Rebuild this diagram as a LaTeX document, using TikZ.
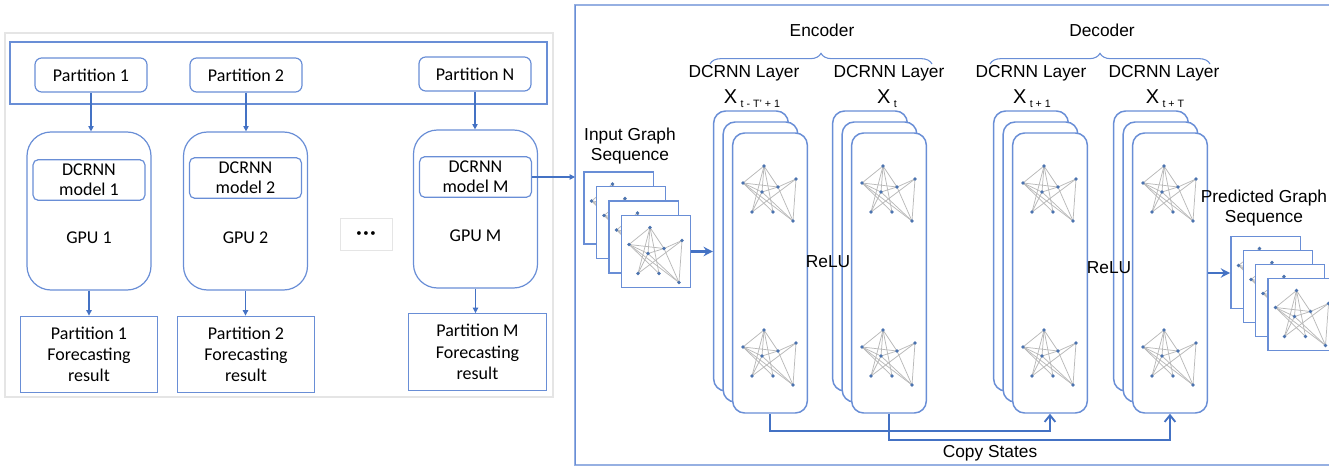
\documentclass[tikz,border=0pt]{standalone}
\usepackage{fontspec}
\setmainfont{Liberation Sans}
\newfontfamily\calibri{Carlito}
\usetikzlibrary{arrows.meta, decorations.pathreplacing, positioning}

\definecolor{boxblue}{RGB}{105,142,214}
\definecolor{arrblue}{RGB}{68,114,196}
\definecolor{edgegray}{RGB}{185,185,185}
\definecolor{dotblue}{RGB}{75,115,175}

% subscript of the X labels
\newcommand{\layersub}[1]{\raisebox{-3pt}{\fontsize{8}{8}\selectfont #1}}

% small graph drawn inside the frames and the layers
\newcommand{\minigraph}[1]{%
  \begin{scope}[shift={#1}]
    \coordinate (ga) at (0,0);
    \coordinate (gb) at (-21,17);
    \coordinate (gc) at (-2,26);
    \coordinate (gd) at (14,21);
    \coordinate (ge) at (32,13);
    \coordinate (gf) at (-12,46);
    \coordinate (gg) at (9,46);
    \coordinate (gh) at (29,55);
    \foreach \u/\v in {ga/gb,ga/gc,ga/gd,ga/gg,gb/gc,gb/gg,gb/gh,gc/gd,gc/gf,gd/ge,gd/gh,ge/gf,ge/gh,gc/gh,gf/ga,gb/gd}
      \draw[edgegray, line width=0.55pt] (\u) -- (\v);
    \foreach \p in {ga,gb,gc,gd,ge,gf,gg,gh}
      \fill[dotblue] (\p) circle (1.4pt);
  \end{scope}}

\begin{document}
\begin{tikzpicture}[x=0.75pt, y=-0.75pt,
  every node/.style={font=\fontsize{13}{15.5}\selectfont},
  part/.style={draw=boxblue, line width=0.9pt, rounded corners=5pt, minimum width=84pt, minimum height=25.5pt, font=\calibri\fontsize{13.5}{15}\selectfont},
  gpu/.style={draw=boxblue, line width=0.9pt, rounded corners=18pt, minimum width=93pt, minimum height=118.5pt},
  model/.style={draw=boxblue, line width=0.9pt, rounded corners=4pt, minimum width=84pt, minimum height=28.5pt, align=center, font=\calibri\fontsize{13.5}{15}\selectfont},
  result/.style={draw=boxblue, line width=0.9pt, minimum width=103pt, minimum height=57.5pt, align=center, font=\calibri\fontsize{13.5}{16}\selectfont},
  lefttext/.style={font=\calibri\fontsize{13.5}{15}\selectfont},
  down/.style={arrblue, line width=0.8pt, -{Triangle[length=4pt, width=4pt]}},
  frame/.style={draw=boxblue, line width=1pt, fill=white, minimum width=52pt, minimum height=54pt},
  layer/.style={draw=boxblue, line width=1.1pt, fill=white, rounded corners=9pt, minimum width=56pt, minimum height=210pt},
  flow/.style={arrblue, line width=1.6pt, -{Stealth[length=7pt, width=7pt]}},
  copy/.style={arrblue, line width=1.4pt, -{Straight Barb[length=5pt, width=8pt]}},
  brace/.style={boxblue, line width=0.8pt, decorate, decoration={brace, amplitude=8pt}}]

\useasboundingbox (0,0) rectangle (1329,467);

% ---- partitioned training on several GPUs ----
\draw[gray!20, line width=0.8pt] (5,33) rectangle (553,397);
\draw[boxblue, line width=1pt] (10,42) rectangle (547,104);

\node[part] (part1) at (91,75) {Partition 1};
\node[part] (part2) at (246,75) {Partition 2};
\node[part] (partN) at (475,74) {Partition N};

\node[gpu] (gpu1) at (89,211) {};
\node[gpu] (gpu2) at (245.5,211) {};
\node[gpu] (gpuM) at (475.5,209) {};

\node[model] (model1) at (89,180) {DCRNN\\model 1};
\node[model] (model2) at (245.5,178) {DCRNN\\model 2};
\node[model] (modelM) at (475.5,177) {DCRNN\\model M};

\node[lefttext] at (89,238) {GPU 1};
\node[lefttext] at (245.5,238) {GPU 2};
\node[lefttext] at (475.5,236) {GPU M};

\node[draw=gray!20, line width=0.6pt, minimum width=39pt, minimum height=24pt, font=\calibri\fontsize{8}{8}\selectfont] (dots) at (366,234) {\textbullet\,\textbullet\,\textbullet};

\node[result] (res1) at (89,354.5) {Partition 1\\Forecasting\\result};
\node[result] (res2) at (246,354.5) {Partition 2\\Forecasting\\result};
\node[result] (resM) at (477.5,352) {Partition M\\Forecasting\\result};

\draw[down] (part1.south) -- (part1.south |- gpu1.north);
\draw[down] (part2.south) -- (part2.south |- gpu2.north);
\draw[down] (partN.south) -- (partN.south |- gpuM.north);
\draw[down] (gpu1.south) -- (gpu1.south |- res1.north);
\draw[down] (gpu2.south) -- (gpu2.south |- res2.north);
\draw[down] (gpuM.south) -- (gpuM.south |- resM.north);

% ---- encoder / decoder ----
\coordinate (rframe) at (575,5);
\draw[boxblue!70, line width=1pt] (rframe) rectangle (1340,465);
\draw[boxblue, line width=0.5pt] (rframe) -- (575,465);
\draw[down] (modelM.east) -- (modelM.east -| rframe);

% input sequence
\foreach \k/\cx/\cy in {1/618.5/208, 2/631/222.5, 3/643.5/237, 4/656/251.5} {
  \node[frame] (in\k) at (\cx,\cy) {};
  \minigraph{(\cx-6,\cy-24)}
}
\node[align=center] (intext) at (630,146) {Input Graph\\Sequence};

% stacked layers
\foreach \nm/\cx in {enc1/770, enc2/889, dec1/1050, dec2/1170} {
  \node[layer] (\nm-back) at (\cx-19,251) {};
  \node[layer] (\nm-mid) at (\cx-9.5,262) {};
  \node[layer] (\nm) at (\cx,273) {};
  \minigraph{(\cx-6,166)}
  \minigraph{(\cx-6,330)}
}

\node (lab1) at (744,73) {DCRNN Layer};
\node (lab2) at (889,73) {DCRNN Layer};
\node (lab3) at (1031,73) {DCRNN Layer};
\node (lab4) at (1164,73) {DCRNN Layer};
\node[font=\fontsize{15}{15}\selectfont] at (752,99) {X\,\layersub{t - T' + 1}};
\node[font=\fontsize{15}{15}\selectfont] at (887,99) {X\,\layersub{t}};
\node[font=\fontsize{15}{15}\selectfont] at (1032,99) {X\,\layersub{t + 1}};
\node[font=\fontsize{15}{15}\selectfont] at (1165,99) {X\,\layersub{t + T}};

\coordinate (encL) at (710,64);
\coordinate (encR) at (932,64);
\coordinate (decL) at (990,64);
\coordinate (decR) at (1210,64);
\draw[brace] (encL) -- (encR);
\draw[brace] (decL) -- (decR);
\node (enctext) at (822,30) {Encoder};
\node (dectext) at (1102,30) {Decoder};

\node (relu1) at (828,262) {ReLU};
\node (relu2) at (1109,268) {ReLU};

% predicted sequence
\foreach \k/\cx/\cy in {1/1265.5/272.5, 2/1278/286.5, 3/1290/300.5, 4/1302.5/314.5} {
  \node[frame] (out\k) at (\cx,\cy) {};
  \minigraph{(\cx-6,\cy-24)}
}
\node[align=center] (outtext) at (1264,208) {Predicted Graph\\Sequence};

\draw[flow] (in4.east) -- (in4.east -| enc1-back.west);
\draw[flow] (dec2.east) -- (dec2.east -| out1.west);

% copy states
\draw[copy] (enc1.south) -- ++(0,17) -| (dec1.south);
\draw[copy] (enc2.south) -- ++(0,26) -| (dec2.south);
\node (copytext) at (990,453) {Copy States};

\end{tikzpicture}
\end{document}
